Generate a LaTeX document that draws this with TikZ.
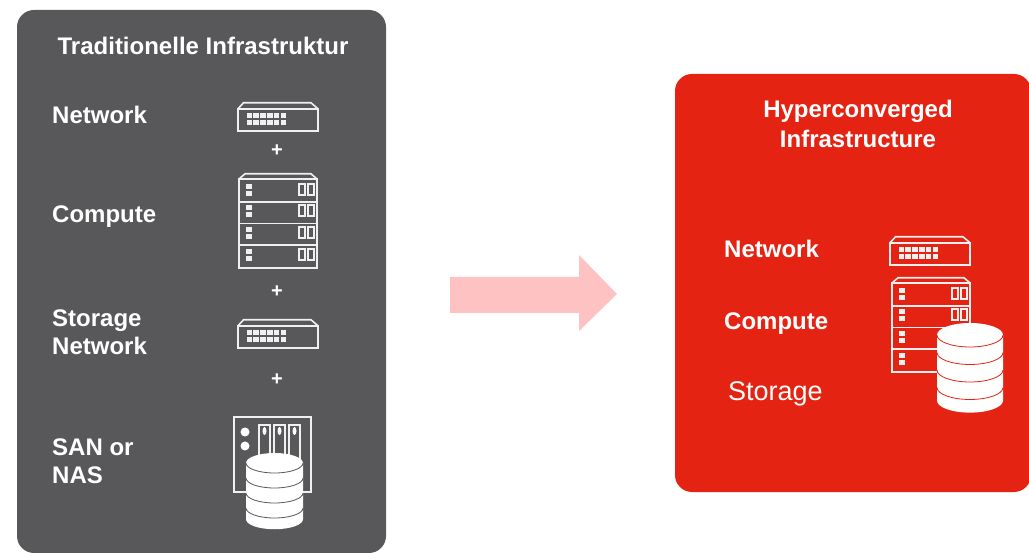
\documentclass[tikz,border=0pt]{standalone}
\usepackage{fontspec}
\setmainfont{Liberation Sans}
\definecolor{panelgrey}{HTML}{58585A}
\definecolor{panelred}{HTML}{E42313}
\definecolor{arrowpink}{HTML}{FFC2C2}
\definecolor{iconwhite}{HTML}{F0F0F0}
\tikzset{
  lbl/.style={text=white,font=\bfseries\fontsize{24}{28}\selectfont,anchor=base west,inner sep=0pt,align=left},
  ttl/.style={text=white,font=\bfseries\fontsize{24}{30}\selectfont,anchor=base,inner sep=0pt,align=center},
  plus/.style={text=white,font=\bfseries\fontsize{20}{20}\selectfont,anchor=center,inner sep=0pt},
  icon/.style={draw=iconwhite,line width=1.6pt,line join=miter},
  spot/.style={fill=iconwhite,draw=none}
}
\newcommand{\switchicon}[2]{%
  \begin{scope}[shift={(#1,#2)}]
    \draw[icon] (0.8,7) -- (6.5,0.8) -- (74,0.8) -- (81.2,7);
    \draw[icon] (0.8,7) rectangle (81.2,29.2);
    \foreach \c in {0,...,5}\foreach \r in {0,1}
      \fill[spot] (9.5+\c*6.8,11+\r*6.6) rectangle ++(5.6,5.4);
  \end{scope}}
% x, y, list of rows that carry the small bays
\newcommand{\servericon}[3]{%
  \begin{scope}[shift={(#1,#2)}]
    \draw[icon] (2,6) -- (8,0.8) -- (74,0.8) -- (80,6);
    \draw[icon] (2,6) rectangle (80,95.2);
    \draw[icon] (2,29) -- (80,29);
    \draw[icon] (2,50.5) -- (80,50.5);
    \draw[icon] (2,72) -- (80,72);
    \foreach \yy in {11,32,54,76}{
      \fill[spot] (9,\yy) rectangle ++(6,5.5);
      \fill[spot] (9,\yy+7) rectangle ++(6,5.5);
    }
    \foreach \yy in {#3}{
      \draw[iconwhite,line width=1.4pt] (62,\yy) rectangle ++(6,11);
      \draw[iconwhite,line width=1.4pt] (71,\yy) rectangle ++(6,11);
    }
  \end{scope}}
% cx, top, half width, ry, step, colour of the gaps
\newcommand{\dbicon}[6]{%
  \begin{scope}[shift={(#1,#2)}]
    \fill[white] (-#3,#4) -- (-#3,#4+#5*3+#5*0.75)
       arc[start angle=180,end angle=0,x radius=#3,y radius=#4]
       -- (#3,#4)
       arc[start angle=0,end angle=-180,x radius=#3,y radius=#4] -- cycle;
    \foreach \k in {0,1,2,3}
      \draw[#6,line width=0.8pt] (-#3,#4+\k*#5) arc[start angle=180,end angle=0,x radius=#3,y radius=#4];
  \end{scope}}
\begin{document}
\begin{tikzpicture}[x=1pt,y=-1pt]
\useasboundingbox (0,0) rectangle (1029,553);
\fill[white] (0,0) rectangle (1029,553);
% panels
\fill[panelgrey,rounded corners=17pt] (17,10) rectangle (386,553);
\begin{scope}
  \clip (0,0) rectangle (1029,553);
  \fill[panelred,rounded corners=17pt] (675,74) rectangle (1031,492);
\end{scope}
% arrow
\fill[arrowpink] (450,277) -- (579,277) -- (579,255) -- (617,294) -- (579,331) -- (579,313) -- (450,313) -- cycle;
% left texts
\node[ttl] (t1) at (203,55) {Traditionelle Infrastruktur};
\node[lbl] (l1) at (52,124) {Network};
\node[lbl] (l2) at (52,223) {Compute};
\node[lbl] (l3) at (52,355) {Storage\\Network};
\node[lbl] (l4) at (52,483) {SAN or\\NAS};
\node[plus] (p1) at (277,151) {+};
\node[plus] (p2) at (277,292) {+};
\node[plus] (p3) at (277,380) {+};
% left icons
\switchicon{237}{102}
\servericon{237}{173}{11,32,54,76}
\switchicon{237}{319}
% NAS
\draw[icon,line width=2pt] (234,417) rectangle (311,492);
\fill[white] (245,432) circle (4.5);
\fill[white] (245,446) circle (4.5);
\foreach \sx in {259,274,289}{
  \draw[icon,line width=1.8pt] (\sx,425) rectangle ++(11,40);
  \fill[white] (\sx+5.5,431) ellipse (2 and 4);
}
\dbicon{274.5}{453}{28.5}{10}{15}{panelgrey}
% right texts
\node[ttl] (t2) at (858,148) {Hyperconverged\\Infrastructure};
\node[lbl] (r1) at (724,258) {Network};
\node[lbl] (r2) at (724,330) {Compute};
\node[lbl,font=\fontsize{27}{28}\selectfont] (r3) at (728,401) {Storage};
% right icons
\switchicon{889}{236}
\servericon{890}{277}{11,32}
\dbicon{970}{323}{33}{12}{17.5}{panelred}
\end{tikzpicture}
\end{document}
